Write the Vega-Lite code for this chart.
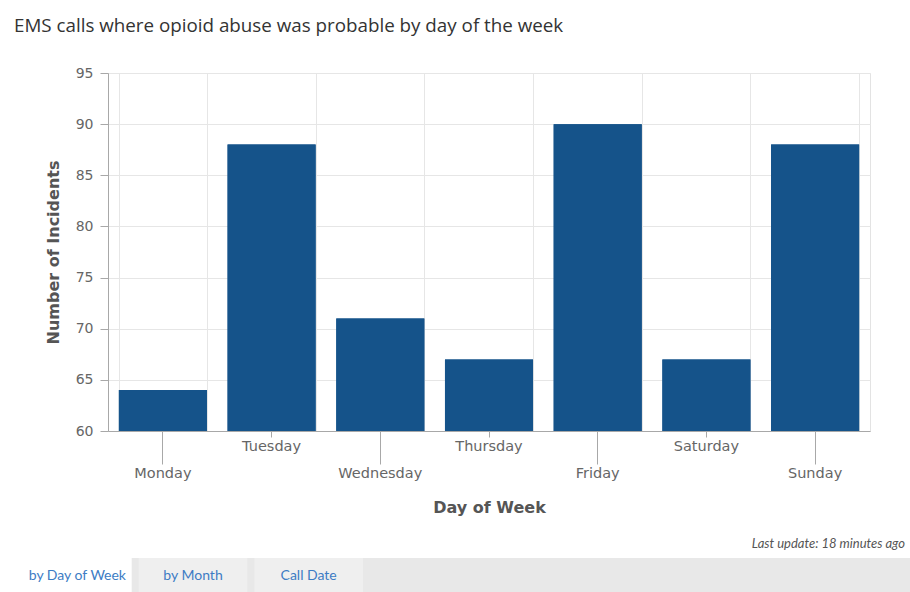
{
  "$schema": "https://vega.github.io/schema/vega-lite/v6.json",
  "background": "white",
  "padding": {"left": 14, "top": 16, "right": 5, "bottom": 0},
  "config": {
    "font": "DejaVu Sans",
    "view": {"stroke": "#e3e3e3"}
  },
  "title": {
    "text": "EMS calls where opioid abuse was probable by day of the week",
    "anchor": "start",
    "frame": "bounds",
    "font": "Open Sans",
    "fontSize": 18.8,
    "fontWeight": "normal",
    "color": "#333333",
    "offset": 30,
    "dx": -9
  },
  "bounds": "flush",
  "spacing": 127,
  "vconcat": [
    {
      "width": 762,
      "height": 358,
      "title": {
        "text": "Last update: 18 minutes ago",
        "orient": "bottom",
        "anchor": "end",
        "frame": "group",
        "font": "Lato",
        "fontStyle": "italic",
        "fontWeight": "normal",
        "fontSize": 13,
        "color": "#555555",
        "offset": 22,
        "dx": 35
      },
      "data": {
        "values": [
          {"day": "Monday", "incidents": 64},
          {"day": "Tuesday", "incidents": 88},
          {"day": "Wednesday", "incidents": 71},
          {"day": "Thursday", "incidents": 67},
          {"day": "Friday", "incidents": 90},
          {"day": "Saturday", "incidents": 67},
          {"day": "Sunday", "incidents": 88}
        ]
      },
      "layer": [
        {
          "mark": {"type": "bar", "color": "#15538a"},
          "encoding": {
            "x": {
              "field": "day", "type": "nominal", "sort": null,
              "scale": {"paddingInner": 0.19, "paddingOuter": 0.1},
              "axis": {
                "orient": "bottom",
                "grid": true, "gridColor": "#e6e6e6", "tickBand": "extent",
                "labels": false, "ticks": false, "domain": false, "title": null
              }
            },
            "y": {
              "field": "incidents", "type": "quantitative",
              "scale": {"domain": [60, 95], "nice": false, "zero": false},
              "axis": {
                "values": [60, 65, 70, 75, 80, 85, 90, 95],
                "grid": true, "gridColor": "#e6e6e6",
                "domainColor": "#a8a8a8", "tickColor": "#a8a8a8", "tickSize": 8,
                "labelFont": "DejaVu Sans", "labelFontSize": 14, "labelColor": "#666666", "labelPadding": 7,
                "title": "Number of Incidents",
                "titleFont": "DejaVu Sans", "titleFontSize": 16, "titleFontWeight": "bold", "titleColor": "#555555",
                "titlePadding": 14
              }
            },
            "y2": {"datum": 60}
          }
        },
        {
          "mark": {"type": "bar", "color": "#15538a"},
          "encoding": {
            "x": {
              "field": "day", "type": "nominal", "sort": null,
              "scale": {"paddingInner": 0.19, "paddingOuter": 0.1},
              "axis": {
                "orient": "bottom",
                "grid": false, "labelAngle": 0,
                "domainColor": "#a8a8a8", "tickColor": "#a8a8a8",
                "tickSize": {"condition": {"test": "datum.value == 'Tuesday' || datum.value == 'Thursday' || datum.value == 'Saturday'", "value": 6}, "value": 33},
                "labelPadding": 2,
                "labelFont": "DejaVu Sans", "labelFontSize": 14.5, "labelColor": "#666666",
                "title": "Day of Week",
                "titleFont": "DejaVu Sans", "titleFontSize": 16, "titleFontWeight": "bold", "titleColor": "#555555",
                "titlePadding": 20
              }
            },
            "y": {
              "field": "incidents", "type": "quantitative",
              "scale": {"domain": [60, 95], "nice": false, "zero": false}
            },
            "y2": {"datum": 60}
          }
        }
      ],
      "resolve": {"axis": {"x": "independent"}}
    },
    {
      "width": 910,
      "height": 35,
      "view": {"fill": "#e8e8e8", "stroke": null},
      "data": {
        "values": [
          {"tab": "by Day of Week", "state": "selected"},
          {"tab": "by Month", "state": "other"},
          {"tab": "Call Date", "state": "other"}
        ]
      },
      "encoding": {
        "x": {
          "field": "tab", "type": "nominal", "sort": null, "axis": null,
          "scale": {"range": [-85, 255], "paddingInner": 0.06, "paddingOuter": 0}
        }
      },
      "layer": [
        {
          "mark": {"type": "rect"},
          "encoding": {
            "fill": {"field": "state", "type": "nominal", "legend": null,
              "scale": {"domain": ["selected", "other"], "range": ["#ffffff", "#efefef"]}}
          }
        },
        {
          "mark": {"type": "text", "font": "Lato", "fontSize": 14, "color": "#3d7cc4"},
          "encoding": {"text": {"field": "tab"}}
        }
      ]
    }
  ]
}
